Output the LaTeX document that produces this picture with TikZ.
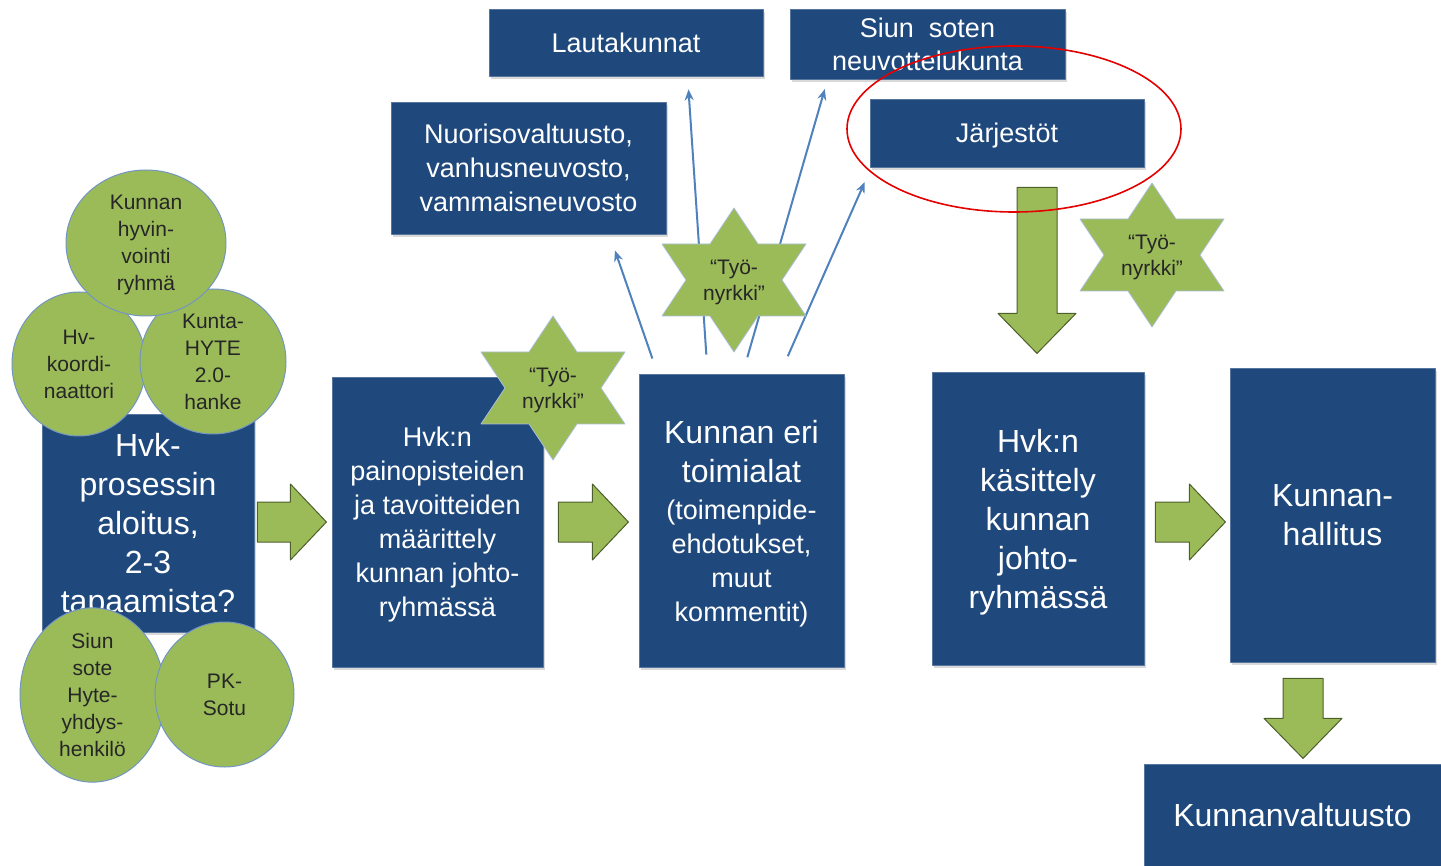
\documentclass[tikz,border=0pt]{standalone}
\usepackage{fontspec}
\setmainfont{Liberation Sans}
\usetikzlibrary{shapes.geometric,arrows.meta,calc,shadows}
\definecolor{boxblue}{HTML}{1F497D}
\definecolor{leafgreen}{HTML}{9BBB59}
\definecolor{linkblue}{HTML}{4F81BD}
\definecolor{rimblue}{HTML}{7395C2}
\definecolor{arrowrim}{HTML}{4E5E2C}
\newcommand\bigf{\fontsize{32}{39}\selectfont}
\newcommand\medf{\fontsize{27}{34}\selectfont}
\newcommand\ballf{\fontsize{21}{27}\selectfont}
\newcommand\starf{\fontsize{21}{26}\selectfont}
% kuusisakarainen tahti: nimi, keskipiste
\newcommand\tyostar[2]{%
  \draw[starfill] #2 ++(0,-72) -- ++(24,36) -- ++(48,0) -- ++(-24,36) -- ++(24,36) -- ++(-48,0)
    -- ++(-24,36) -- ++(-24,-36) -- ++(-48,0) -- ++(24,-36) -- ++(-24,-36) -- ++(48,0) -- cycle;
  \node[startext] (#1) at #2 {“Työ-\\nyrkki”};}
% paksu nuoli: hanta, pituus
\newcommand\fatright[2]{\draw[fatarrow] #1 ++(0,-20) -- ++(#2-36,0) -- ++(0,-18) -- ++(36,38)
    -- ++(-36,38) -- ++(0,-18) -- ++(36-#2,0) -- cycle;}
\newcommand\fatdown[2]{\draw[fatarrow] #1 ++(-20,0) -- ++(0,#2-40) -- ++(-19,0) -- ++(39,40)
    -- ++(39,-40) -- ++(-19,0) -- ++(0,40-#2) -- cycle;}
\begin{document}
\begin{tikzpicture}[x=1pt,y=-1pt, line join=round,
    box/.style={fill=boxblue, draw=boxblue!75!white, line width=.8, text=white, align=center,
      inner sep=0, text depth=0pt, drop shadow={opacity=.3,shadow xshift=2pt,shadow yshift=-3pt}},
    ball/.style={ellipse, fill=leafgreen, draw=rimblue, line width=1, align=center, inner sep=0,
      text depth=0pt, text=black!85, font=\ballf},
    fatarrow/.style={fill=leafgreen, draw=arrowrim, line width=1},
    starfill/.style={fill=leafgreen, draw=rimblue!60, line width=.8},
    startext/.style={align=center, font=\starf, text depth=0pt, text=black!85},
    link/.style={draw=linkblue, line width=2, -{Stealth[length=11pt,width=9pt]}}]
\useasboundingbox (0,0) rectangle (1441,866);
% ylarivin laatikot
\node[box, font=\medf, minimum width=274, minimum height=67] (laut) at (626,42.5) {Lautakunnat};
\node[box, font=\medf, minimum width=275, minimum height=70] (siun) at (927.5,44) {Siun\ \ soten\\[-1pt]neuvottelukunta};
\node[box, font=\medf, minimum width=274, minimum height=68] (jarj) at (1007,133) {Järjestöt};
\node[box, font=\medf, minimum width=275, minimum height=132] (nuor) at (528.5,168) {Nuorisovaltuusto,\\vanhusneuvosto,\\vammaisneuvosto};
% paarivi
\node[box, font=\bigf, minimum width=212, minimum height=218] (start) at (148,523) {Hvk-\\prosessin\\aloitus,\\2-3\\tapaamista?};
\node[box, font=\medf, minimum width=211, minimum height=290] (paino) at (437.5,522) {Hvk:n\\painopisteiden\\ja tavoitteiden\\määrittely\\kunnan johto-\\ryhmässä};
\node[box, font=\medf, minimum width=205, minimum height=293] (kunta) at (741.5,520.5)
  {\bigf Kunnan eri\\[5pt]\bigf toimialat\\[3pt]\medf (toimenpide-\\ehdotukset,\\muut\\kommentit)};
\node[box, font=\bigf, minimum width=212, minimum height=293] (kasit) at (1038,518.5) {Hvk:n\\käsittely\\kunnan\\johto-\\ryhmässä};
\node[box, font=\bigf, minimum width=205, minimum height=294] (hall) at (1332.5,515) {Kunnan-\\hallitus};
\node[box, font=\bigf, minimum width=297, minimum height=102] (valt) at (1292.5,815) {Kunnanvaltuusto};
% yhteydet toimialoilta
\draw[link, shorten <=16pt, shorten >=17pt] ($(kunta.north west)+(19,0)$) -- ($(nuor.south east)+(-57,0)$);
\draw[link, shorten <=19pt, shorten >=13pt] ($(kunta.north west)+(69,0)$) -- ($(laut.south west)+(199,0)$);
\draw[link, shorten <=17pt, shorten >=10pt] ($(kunta.north west)+(104,0)$) -- ($(siun.south west)+(38,0)$);
\draw[link, shorten <=19pt, shorten >=16pt] ($(kunta.north west)+(141.5,0)$) -- ($(jarj.south west)+(1.6,0)$);
% tyonyrkit
\tyostar{star1}{(553,388)}
\tyostar{star2}{(734,280)}
\tyostar{star3}{(1152,255)}
% pallot
\node[ball, minimum width=134, minimum height=144] (koord) at (79,364) {Hv-\\koordi-\\naattori};
\node[ball, minimum width=146, minimum height=145] (hyte) at (213,361.5) {Kunta-\\HYTE\\2.0-\\hanke};
\node[ball, minimum width=160, minimum height=146] (kvr) at (146,243) {Kunnan\\hyvin-\\vointi\\ryhmä};
\node[ball, minimum width=145, minimum height=146] (siunh) at (92.5,695) {Siun\\sote\\Hyte-\\yhdys-\\henkilö};
\node[ball, minimum width=139, minimum height=145] (pk) at (224.5,694.5) {PK-\\Sotu};
% paksut nuolet
\fatright{($(start.east)+(3,-1)$)}{69}
\fatright{($(paino.east)+(15,0)$)}{70}
\fatright{($(kasit.east)+(11,3.5)$)}{70}
\fatdown{($(hall.south)+(-29.5,16)$)}{80}
\fatdown{($(jarj.south)+(30,20)$)}{166}
% korostus
\draw[red!90!black, line width=1.6] (1014,129) ellipse [x radius=167, y radius=83];
\end{tikzpicture}
\end{document}
